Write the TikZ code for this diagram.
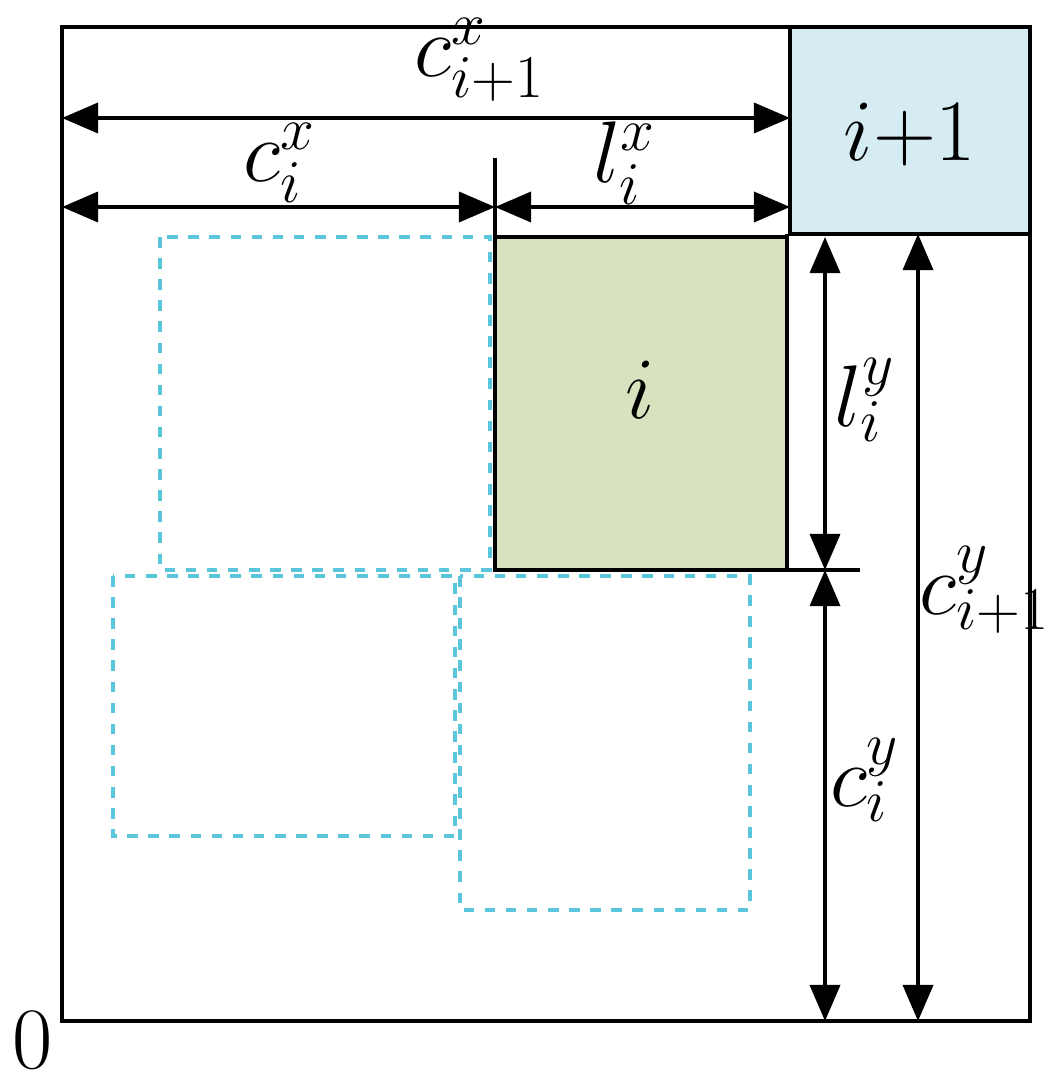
\documentclass[tikz,border=0pt]{standalone}
\usetikzlibrary{arrows.meta}
\definecolor{bfill}{HTML}{D5ECF2}
\definecolor{gfill}{HTML}{D6E3BE}
\definecolor{dcyan}{HTML}{5BC5DB}
\begin{document}
\begin{tikzpicture}[x=0.01cm,y=-0.01cm,line width=1pt,
  dim/.style={{Triangle[length=0.36cm,width=0.3cm]}-{Triangle[length=0.36cm,width=0.3cm]},line width=1pt},
  dbox/.style={draw=dcyan,dashed,line width=1.2pt},
  lab/.style={font=\fontsize{24}{28}\selectfont,inner sep=1pt}]
\useasboundingbox (0,0) rectangle (1056,1079);
\draw[dbox] (160,237) rectangle (490,570);
\draw[dbox] (113,576) rectangle (455,836);
\draw[dbox] (460,576) rectangle (750,910);
\draw[fill=bfill] (790,27) rectangle (1030,234);
\draw[fill=gfill] (495,237) rectangle (787,570);
\draw (62,27) rectangle (1030,1021);
\draw (495,158) -- (495,570);
\draw (495,570) -- (860,570);
\draw (787,234) -- (787,570);
\coordinate (L) at (62,118); \coordinate (R) at (790,118);
\draw[dim] (L) -- (R);
\coordinate (L2) at (62,207); \coordinate (M2) at (495,207); \coordinate (R2) at (790,207);
\draw[dim] (L2) -- (M2);
\draw[dim] (M2) -- (R2);
\coordinate (V1) at (825,237); \coordinate (V2) at (825,570); \coordinate (V3) at (825,1021);
\draw[dim] (V1) -- (V2);
\draw[dim] (V2) -- (V3);
\coordinate (W1) at (918,234); \coordinate (W2) at (918,1021);
\draw[dim] (W1) -- (W2);
\node[lab] (a) at (480,60) {$c^x_{i+1}$};
\node[lab] (b) at (280,163) {$c^x_i$};
\node[lab] (c) at (625,163) {$l^x_i$};
\node[lab] (d) at (865,400) {$l^y_i$};
\node[lab] (e) at (865,780) {$c^y_i$};
\node[lab] (f) at (985,590) {$c^y_{i+1}$};
\node[lab] (g) at (910,135) {$i{+}1$};
\node[lab] (h) at (640,390) {$i$};
\node[lab] (z) at (33,1040) {$0$};
\end{tikzpicture}
\end{document}
